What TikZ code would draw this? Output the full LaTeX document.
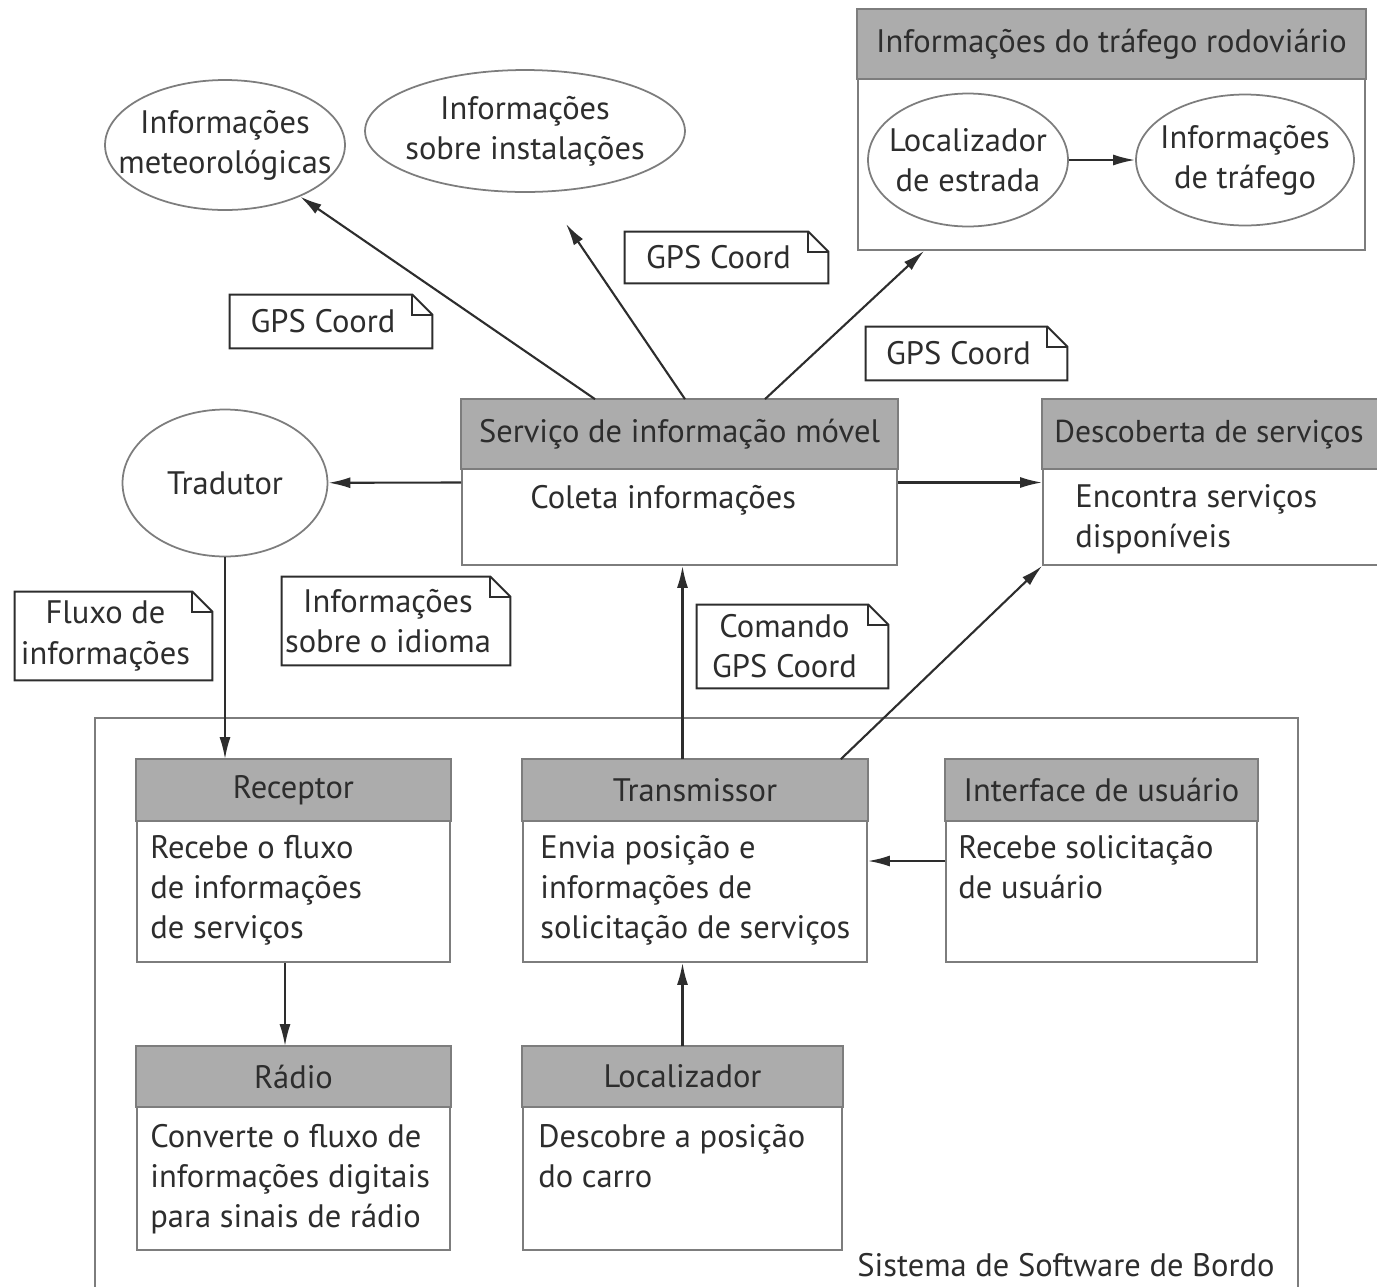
\documentclass[tikz,border=0pt]{standalone}
\usepackage{fontspec}
\setmainfont{PT Sans}
\usetikzlibrary{shapes.geometric,arrows.meta,calc}

\definecolor{hdr}{RGB}{172,172,172}
\definecolor{frame}{RGB}{125,125,125}
\definecolor{ink}{RGB}{45,45,45}

\tikzset{
  txt/.style={font=\fontsize{18.5}{22.8}\selectfont, text=ink},
  classbox/.style={draw=frame, line width=1pt, fill=white, inner sep=0pt},
  hdrfill/.style={fill=hdr, draw=frame, line width=1pt},
  oval/.style={ellipse, draw=frame, line width=1pt, fill=white, inner sep=0pt},
  notebox/.style={inner sep=0pt},
  noteline/.style={draw=ink, line width=1.1pt, fill=white},
  arr/.style={draw=ink, line width=1.2pt, -{Latex[length=0.44cm,width=0.22cm]}},
  titletxt/.style={txt, inner sep=0pt},
  bodytxt/.style={txt, inner sep=0pt, align=left, anchor=north west},
}

% class block: name, centre, width, height, header height (px units), title
\newcommand{\umlblock}[6]{%
  \node[classbox, minimum width=#3, minimum height=#4] (#1) at #2 {};
  \path[hdrfill] (#1.north west) rectangle ($(#1.north east)+(0,#5)$);
  \node[titletxt] (#1-t) at ($(#1.north)+(0,#5/2)$) {#6};
}

% ellipse with its label: name, centre, width, height, text
\newcommand{\umloval}[5]{%
  \node[oval, minimum width=#3, minimum height=#4] (#1) at #2 {};
  \node[txt, align=center, inner sep=0pt] (#1-t) at (#1.center) {#5};
}

% note with folded corner: name, centre, width, height, text
\newcommand{\umlnote}[5]{%
  \node[notebox, minimum width=#3, minimum height=#4] (#1) at #2 {};
  \path[noteline] (#1.south west) -- (#1.north west) -- ($(#1.north east)+(-20,0)$)
     -- ($(#1.north east)+(0,20)$) -- (#1.south east) -- cycle;
  \draw[ink, line width=1.1pt] ($(#1.north east)+(-20,0)$) |- ($(#1.north east)+(0,20)$);
  \node[txt, align=center, inner sep=0pt] (#1-t) at ($(#1.center)+(-8,0)$) {#5};
}

\begin{document}
\begin{tikzpicture}[x=0.02cm, y=-0.02cm]
\useasboundingbox (0,0) rectangle (1377,1286);
\clip (0,0) rectangle (1377,1286);

% on-board software system frame
\draw[frame, line width=0.8pt] (95,1300) |- (1298,718) -- (1298,1300);
\node[txt] (sys) at (1066,1265) {Sistema de Software de Bordo};

% road traffic information block
\umlblock{traf}{(1111.5,130)}{10.14cm}{4.8cm}{70}{Informações do tráfego rodoviário}
\umloval{locest}{(968,160)}{4cm}{2.66cm}{Localizador\\de estrada}
\umloval{inftraf}{(1245,160)}{4.36cm}{2.62cm}{Informações\\de tráfego}

% external information sources
\umloval{met}{(225,145)}{4.8cm}{2.6cm}{Informações\\meteorológicas}
\umloval{inst}{(525,131)}{6.4cm}{2.44cm}{Informações\\sobre instalações}
\umloval{trad}{(225,483)}{4.1cm}{2.94cm}{Tradutor}

% services
\umlblock{svc}{(679.5,482.5)}{8.7cm}{3.3cm}{70}{Serviço de informação móvel}
\node[bodytxt] (svc-b) at (530,485) {Coleta informações};

\umlblock{desc}{(1221.5,482.5)}{7.14cm}{3.3cm}{70}{}
\node[titletxt, anchor=west, font=\fontsize{18}{22.8}\selectfont] (desc-title) at (1054,435) {Descoberta de serviços};
\node[bodytxt] (desc-b) at (1075,484) {Encontra serviços\\disponíveis};

% on-board components
\umlblock{recv}{(293.5,861)}{6.26cm}{4.04cm}{62}{Receptor}
\node[bodytxt] (recv-b) at (150,835) {Recebe o fluxo\\de informações\\de serviços};

\umlblock{trans}{(695,861)}{6.88cm}{4.04cm}{62}{Transmissor}
\node[bodytxt] (trans-b) at (540,835) {Envia posição e\\informações de\\solicitação de serviços};

\umlblock{ui}{(1101.5,861)}{6.22cm}{4.04cm}{62}{Interface de usuário}
\node[bodytxt] (ui-b) at (958,835) {Recebe solicitação\\de usuário};

\umlblock{radio}{(293.5,1148.5)}{6.26cm}{4.06cm}{61}{Rádio}
\node[bodytxt] (radio-b) at (150,1124) {Converte o fluxo de\\informações digitais\\para sinais de rádio};

\umlblock{loc}{(682.5,1148.5)}{6.38cm}{4.06cm}{61}{Localizador}
\node[bodytxt] (loc-b) at (538,1124) {Descobre a posição\\do carro};

% messages
\umlnote{n1}{(331,321.5)}{4.04cm}{1.06cm}{GPS Coord}
\umlnote{n2}{(726.5,257.5)}{4.06cm}{1.02cm}{GPS Coord}
\umlnote{n3}{(966.5,353.5)}{4.02cm}{1.06cm}{GPS Coord}
\umlnote{nflux}{(113.5,636)}{3.94cm}{1.76cm}{Fluxo de\\informações}
\umlnote{nlang}{(396,621)}{4.56cm}{1.76cm}{Informações\\sobre o idioma}
\umlnote{ncmd}{(792.5,646.5)}{3.82cm}{1.66cm}{Comando\\GPS Coord}

% connectors
\draw[arr] (locest) -- (inftraf);
\draw[arr] ($(svc.north)+(-84.5,0)$) -- (met);
\draw[arr] ($(svc.north)+(5.5,0)$) -- ($(inst.south)+(41,31)$);
\draw[arr] ($(svc.north)+(85.5,0)$) -- ($(traf.south west)+(67,0)$);
\draw[arr] (svc.west) -- (trad);
\draw[arr] (svc.east) -- (desc.west);
\draw[arr] (trad.south) -- (trad.south |- recv.north);
\draw[arr] (loc.north |- trans.north) -- (loc.north |- svc.south);
\draw[arr] ($(trans.north east)+(-27,0)$) -- (desc.south west);
\draw[arr] (ui.west) -- (trans.east);
\draw[arr] ($(recv.south)+(-8.5,0)$) -- ($(radio.north)+(-8.5,0)$);
\draw[arr] (loc.north) -- (loc.north |- trans.south);
\end{tikzpicture}
\end{document}
